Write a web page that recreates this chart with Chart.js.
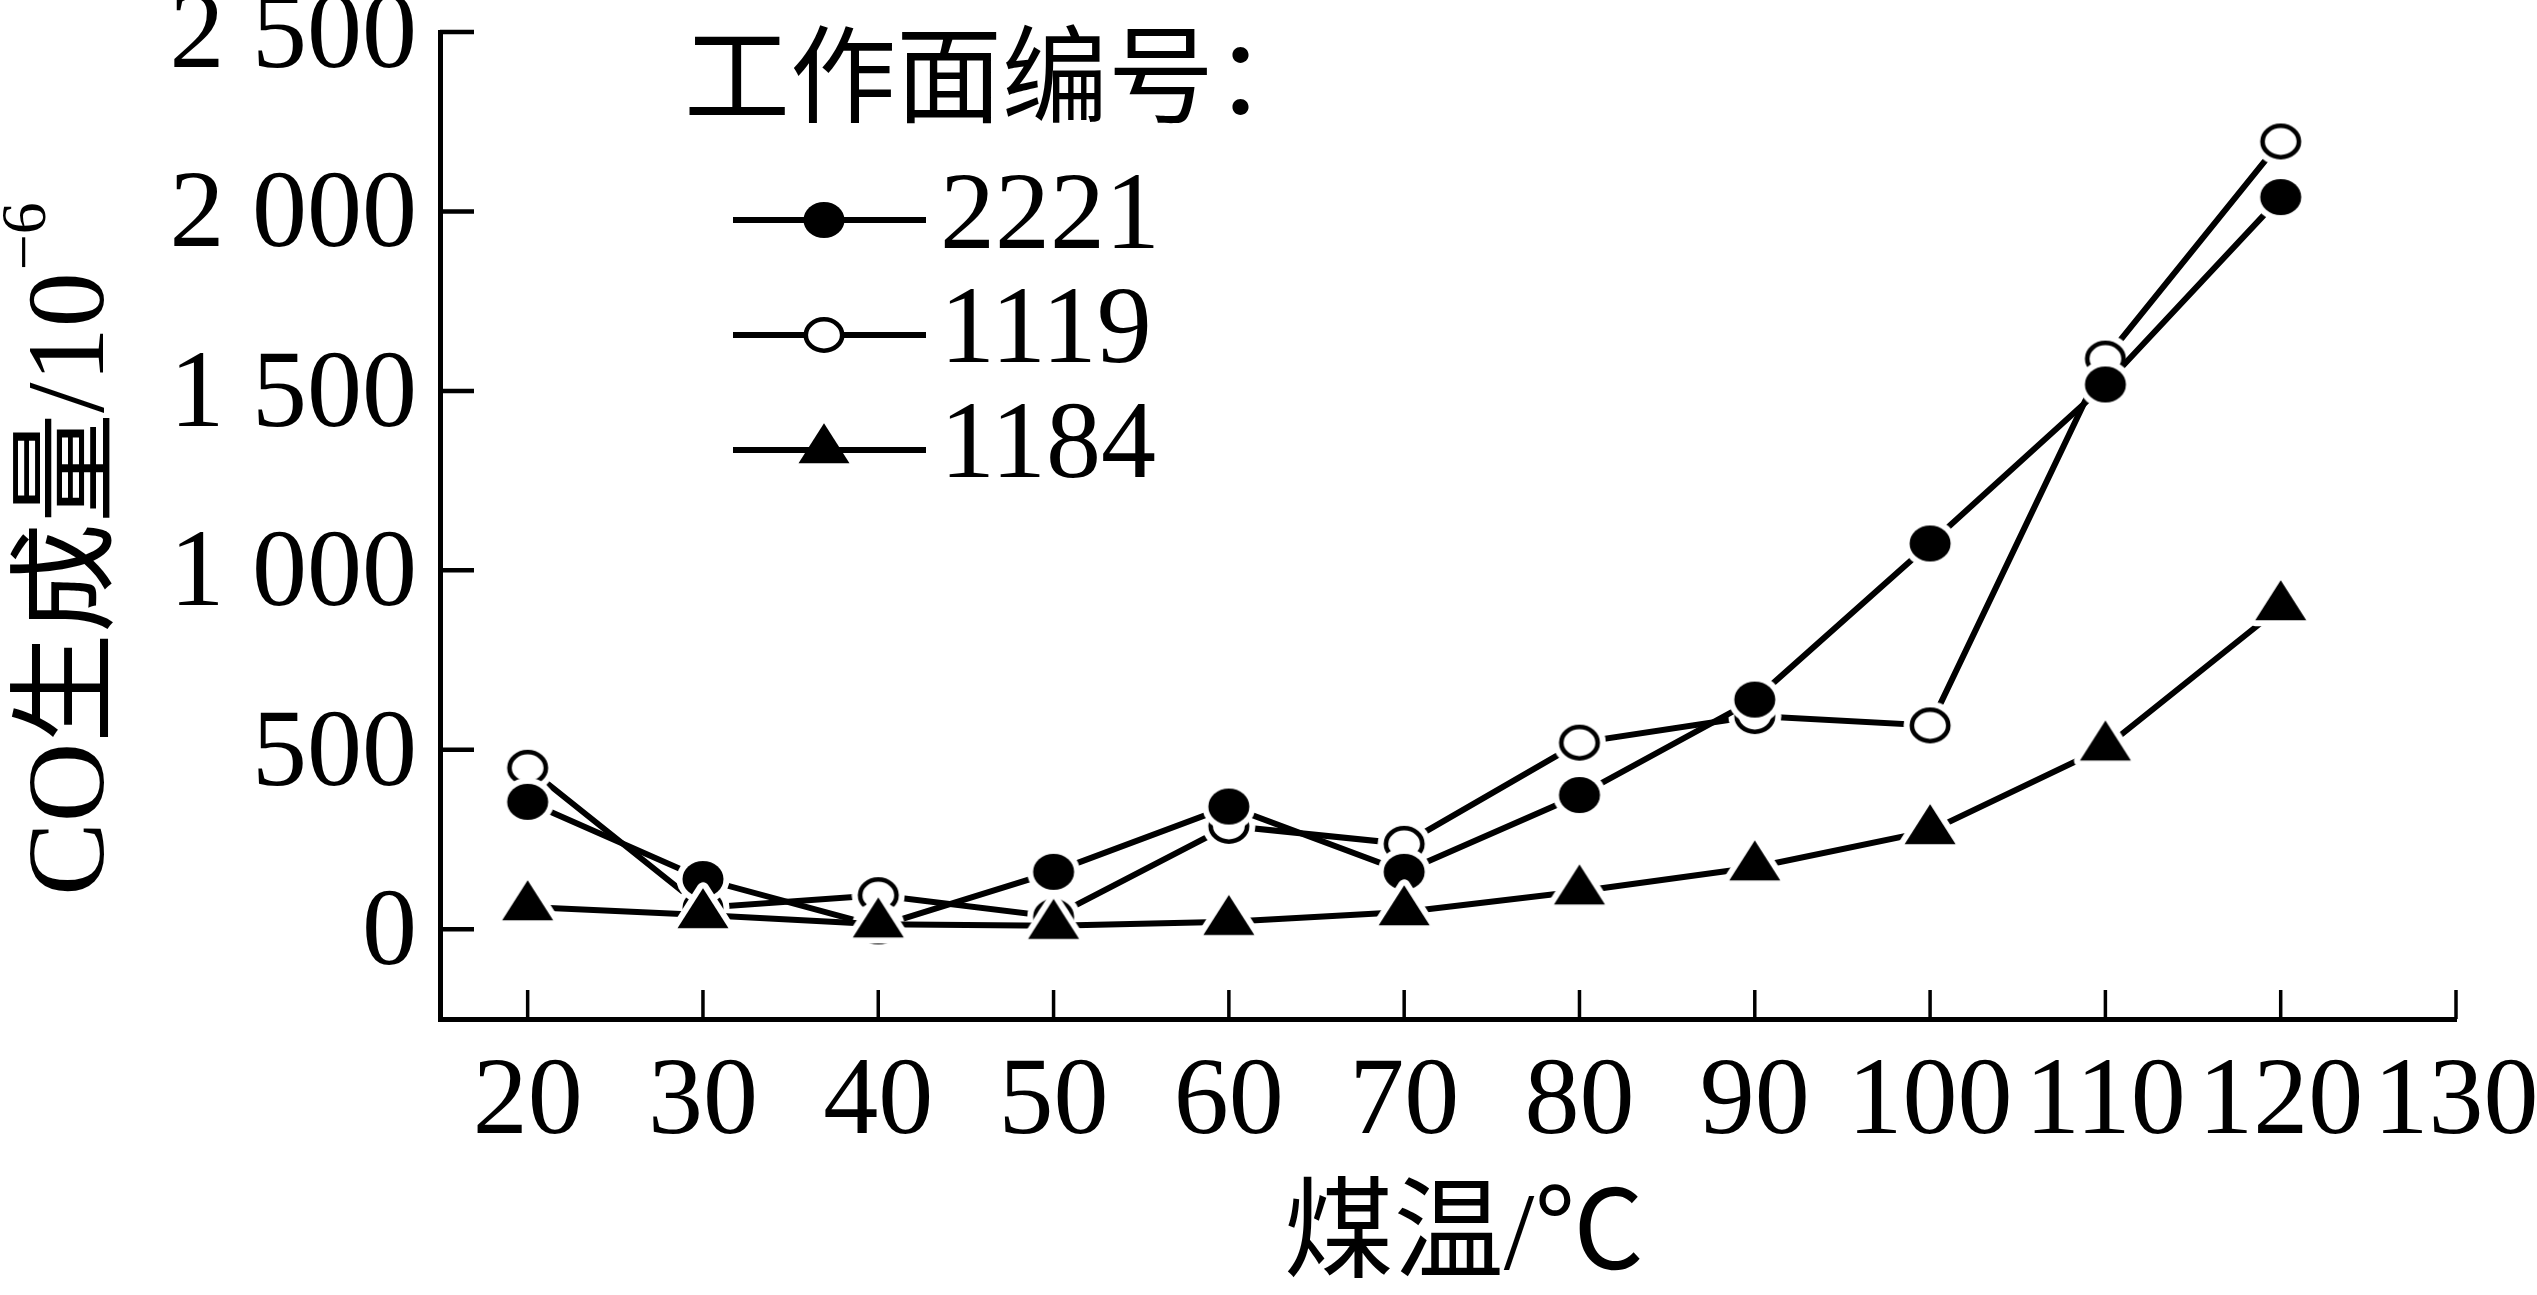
<!DOCTYPE html>
<html>
<head>
<meta charset="utf-8">
<script src="https://cdn.jsdelivr.net/npm/chart.js@4.4.1/dist/chart.umd.min.js"></script>
<style>
html, body { margin: 0; padding: 0; background: #fff; overflow: hidden; }
#wrap { width: 2537px; height: 1295px; }
</style>
</head>
<body>
<div id="wrap"><canvas id="co-chart"></canvas></div>
<script>
'use strict';

var TEMPS = [20, 30, 40, 50, 60, 70, 80, 90, 100, 110, 120];
var CO_2221 = [355, 140, 8, 160, 342, 160, 374, 640, 1075, 1518, 2040];
var CO_1119 = [450, 60, 95, 35, 288, 238, 520, 594, 568, 1590, 2195];
var CO_1184 = [62, 40, 14, 10, 21, 48, 106, 173, 274, 507, 898];
var SERIES_NAMES = ['2221', '1119', '1184'];
var X_TICKS = [20, 30, 40, 50, 60, 70, 80, 90, 100, 110, 120, 130];
var Y_TICKS = [0, 500, 1000, 1500, 2000, 2500];

var SERIF = '"Liberation Serif", "Noto Sans CJK SC", serif';

function drawShape(ctx, kind, x, y, halo) {
	ctx.save();
	if (kind === 'tri') {
		ctx.beginPath();
		ctx.moveTo(x, y - 26.7);
		ctx.lineTo(x + 25.5, y + 13.3);
		ctx.lineTo(x - 25.5, y + 13.3);
		ctx.closePath();
		if (halo) {
			ctx.lineJoin = 'round';
			ctx.lineWidth = halo * 2;
			ctx.strokeStyle = '#fff';
			ctx.stroke();
		}
		ctx.fillStyle = '#000';
		ctx.fill();
	} else {
		if (halo) {
			ctx.beginPath();
			ctx.ellipse(x, y, 20.5 + halo, 18 + halo, 0, 0, Math.PI * 2);
			ctx.fillStyle = '#fff';
			ctx.fill();
		}
		ctx.beginPath();
		if (kind === 'dot') {
			ctx.ellipse(x, y, 20.5, 18, 0, 0, Math.PI * 2);
			ctx.fillStyle = '#000';
			ctx.fill();
		} else {
			ctx.ellipse(x, y, 18.2, 15.7, 0, 0, Math.PI * 2);
			ctx.fillStyle = '#fff';
			ctx.fill();
			ctx.lineWidth = 4.6;
			ctx.strokeStyle = '#000';
			ctx.stroke();
		}
	}
	ctx.restore();
}

function makeMarker(kind) {
	var c = document.createElement('canvas');
	var halo = 6;
	if (kind === 'tri') {
		c.width = 66; c.height = 68;
	} else {
		c.width = 54; c.height = 48;
	}
	drawShape(c.getContext('2d'), kind, c.width / 2, c.height / 2, halo);
	return c;
}

var MARKERS = ['dot', 'ring', 'tri'];

function points(values) {
	return TEMPS.map(function (t, i) { return { x: t, y: values[i] }; });
}

function yLabel(v) {
	if (v < 1000) return String(v);
	var rest = String(v % 1000);
	while (rest.length < 3) rest = '0' + rest;
	return Math.floor(v / 1000) + ' ' + rest;
}

// inward tick marks, like the original figure
var innerTicks = {
	id: 'innerTicks',
	beforeDatasetsDraw: function (chart) {
		var ctx = chart.ctx, a = chart.chartArea;
		var xs = chart.scales.x, ys = chart.scales.y;
		ctx.save();
		ctx.strokeStyle = '#000';
		ctx.lineWidth = 3.5;
		X_TICKS.forEach(function (t) {
			var px = xs.getPixelForValue(t);
			ctx.beginPath();
			ctx.moveTo(px, a.bottom);
			ctx.lineTo(px, a.bottom - 29);
			ctx.stroke();
		});
		ctx.lineWidth = 4.5;
		Y_TICKS.forEach(function (t) {
			var py = ys.getPixelForValue(t);
			ctx.beginPath();
			ctx.moveTo(a.left, py);
			ctx.lineTo(a.left + 34, py);
			ctx.stroke();
		});
		ctx.restore();
	}
};

var legendAndTitle = {
	id: 'legendAndTitle',
	afterDraw: function (chart) {
		var ctx = chart.ctx;
		ctx.save();
		ctx.fillStyle = '#000';

		// legend
		ctx.font = '106px ' + SERIF;
		ctx.textBaseline = 'middle';
		ctx.textAlign = 'left';
		ctx.fillText('工作面编号：', 684, 86);
		var rows = [220, 335, 450];
		var bases = [248, 362, 477];
		ctx.font = '110px ' + SERIF;
		ctx.textBaseline = 'alphabetic';
		chart.data.datasets.forEach(function (ds, i) {
			ctx.strokeStyle = '#000';
			ctx.lineWidth = 6;
			ctx.beginPath();
			ctx.moveTo(733, rows[i]);
			ctx.lineTo(926, rows[i]);
			ctx.stroke();
			drawShape(ctx, MARKERS[i], 824, rows[i], 0);
			ctx.fillText(ds.label, 940, bases[i]);
		});

		// x title
		ctx.textAlign = 'center';
		ctx.textBaseline = 'middle';
		ctx.font = '110px ' + SERIF;
		ctx.fillText('煤温/℃', 1464, 1240);

		// y title with superscript
		ctx.textAlign = 'left';
		ctx.textBaseline = 'alphabetic';
		var main = 'CO生成量/10';
		var sup = '−6';
		ctx.translate(65, 550);
		ctx.rotate(-Math.PI / 2);
		ctx.font = '110px ' + SERIF;
		var w1 = ctx.measureText(main).width;
		ctx.font = '64px ' + SERIF;
		var w2 = ctx.measureText(sup).width;
		var x0 = -(w1 + w2) / 2;
		ctx.font = '110px ' + SERIF;
		ctx.fillText(main, x0, 38);
		ctx.font = '64px ' + SERIF;
		ctx.fillText(sup, x0 + w1 + 2, -20);
		ctx.restore();
	}
};

var ctx = document.getElementById('co-chart').getContext('2d');
new Chart(ctx, {
	type: 'line',
	data: {
		datasets: [
			{ label: SERIES_NAMES[0], data: points(CO_2221), order: 1, pointStyle: makeMarker('dot') },
			{ label: SERIES_NAMES[1], data: points(CO_1119), order: 2, pointStyle: makeMarker('ring') },
			{ label: SERIES_NAMES[2], data: points(CO_1184), order: 0, pointStyle: makeMarker('tri') }
		].map(function (d) {
			d.borderColor = '#000';
			d.backgroundColor = '#000';
			d.borderWidth = 6;
			d.pointRadius = 20;
			d.pointHoverRadius = 20;
			d.tension = 0;
			d.clip = false;
			return d;
		})
	},
	options: {
		responsive: true,
		maintainAspectRatio: false,
		animation: false,
		events: [],
		layout: {
			padding: { top: 32, right: 81, left: 0, bottom: 0 }
		},
		plugins: {
			legend: { display: false },
			tooltip: { enabled: false },
			title: { display: false }
		},
		scales: {
			x: {
				type: 'linear',
				min: 15,
				max: 130,
				afterBuildTicks: function (scale) {
					scale.ticks = X_TICKS.map(function (v) { return { value: v }; });
				},
				afterFit: function (scale) {
					scale.height = 276;
					scale.paddingLeft = 0;
					scale.paddingRight = 0;
				},
				grid: { display: false, drawTicks: false },
				border: { display: true, color: '#000', width: 5 },
				ticks: {
					autoSkip: false,
					maxRotation: 0,
					padding: 30,
					color: '#000',
					font: { family: SERIF, size: 110, lineHeight: 1 }
				}
			},
			y: {
				min: -250,
				max: 2500,
				afterBuildTicks: function (scale) {
					scale.ticks = Y_TICKS.map(function (v) { return { value: v }; });
				},
				afterFit: function (scale) {
					scale.width = 440;
					scale.paddingTop = 0;
					scale.paddingBottom = 0;
				},
				grid: { display: false, drawTicks: false },
				border: { display: true, color: '#000', width: 5 },
				ticks: {
					padding: 23,
					labelOffset: 6,
					color: '#000',
					font: { family: SERIF, size: 110, lineHeight: 1 },
					callback: function (v) { return yLabel(v); }
				}
			}
		}
	},
	plugins: [innerTicks, legendAndTitle]
});
</script>
</body>
</html>
